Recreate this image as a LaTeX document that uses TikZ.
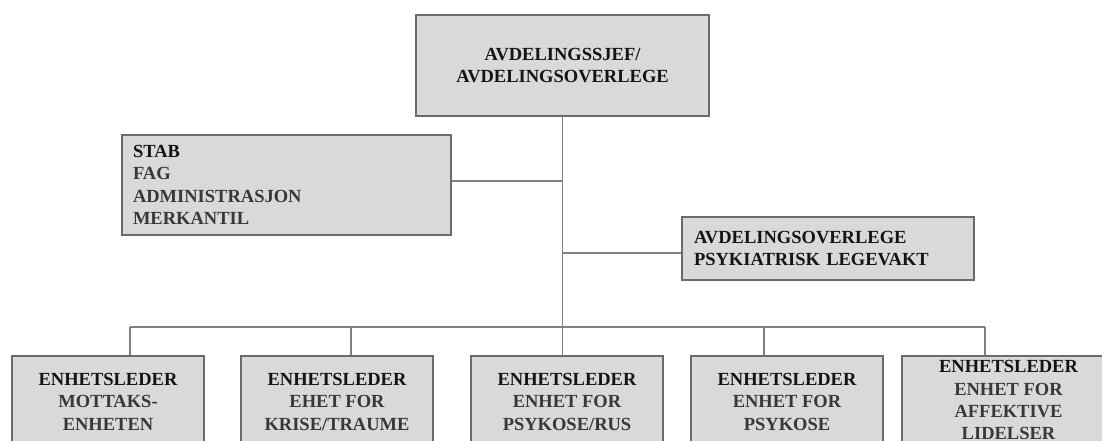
\documentclass[tikz,border=0pt]{standalone}
\usepackage{fontspec}
\setmainfont{Liberation Serif}
\begin{document}
\begin{tikzpicture}[x=1pt,y=-1pt,
  box/.style={draw=black!58, line width=1.6pt, fill=black!15, inner sep=0pt,
    font=\fontsize{18.5}{22.3}\selectfont\bfseries, text=black!92},
  unit/.style={box, anchor=north, minimum width=192pt, minimum height=92pt, align=center},
  conn/.style={draw=black!50, line width=1.5pt}
]
\useasboundingbox (0,0) rectangle (1102,441);
\clip (0,0) rectangle (1102,441);

\node[box, minimum width=293pt, minimum height=101pt, align=center] (top) at (562.5,65.5)
  {AVDELINGSSJEF/\\AVDELINGSOVERLEGE};
\node[box, minimum width=329pt, minimum height=100pt, text width=307pt, align=left] (stab) at (286.5,185)
  {STAB\\\color{black!78}FAG\\\color{black!78}ADMINISTRASJON\\\color{black!78}MERKANTIL};
\node[box, minimum width=292pt, minimum height=63pt, text width=268pt, align=left] (avd) at (828,248.5)
  {AVDELINGSOVERLEGE\\PSYKIATRISK LEGEVAKT};

\node[unit] (b1) at (108,355) {ENHETSLEDER\\\color{black!78}MOTTAKS-\\\color{black!78}ENHETEN};
\node[unit] (b2) at (337,355) {ENHETSLEDER\\\color{black!78}EHET FOR\\\color{black!78}KRISE/TRAUME};
\node[unit] (b3) at (567,355) {ENHETSLEDER\\\color{black!78}ENHET FOR\\\color{black!78}PSYKOSE/RUS};
\node[unit] (b4) at (787,355) {ENHETSLEDER\\\color{black!78}ENHET FOR\\\color{black!78}PSYKOSE};
\node[unit, minimum width=213pt, minimum height=89pt] (b5) at (1008.5,355) {ENHETSLEDER\\\color{black!78}ENHET FOR\\\color{black!78}AFFEKTIVE\\\color{black!78}LIDELSER};

\coordinate (spine) at (562.5,327);
\coordinate (sj) at (562.5,181);
\coordinate (aj) at (562.5,253);
\coordinate (c1) at (130,327);
\coordinate (c2) at (351,327);
\coordinate (c3) at (562.5,327);
\coordinate (c4) at (764,327);
\coordinate (c5) at (985,327);

\draw[conn] (top.south) -- (spine);
\draw[conn] (stab.east |- sj) -- (sj);
\draw[conn] (aj) -- (avd.west |- aj);
\draw[conn] (c1) -- (c5);
\draw[conn] (c1) -- (b1.north -| c1);
\draw[conn] (c2) -- (b2.north -| c2);
\draw[conn] (c3) -- (b3.north -| c3);
\draw[conn] (c4) -- (b4.north -| c4);
\draw[conn] (c5) -- (b5.north -| c5);
\end{tikzpicture}
\end{document}
